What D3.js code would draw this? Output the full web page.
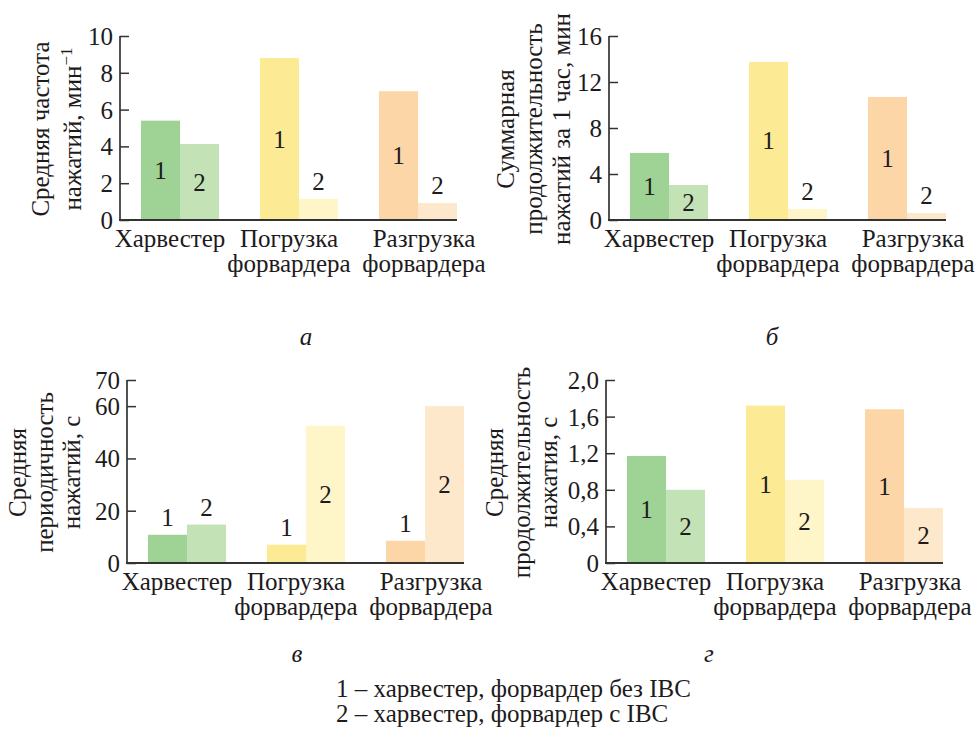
<!DOCTYPE html>
<html>
<head>
<meta charset="utf-8">
<script src="https://cdn.jsdelivr.net/npm/d3@7"></script>
<style>
  html, body { margin: 0; padding: 0; background: #ffffff; }
  svg text { font-family: "Liberation Serif", "Times New Roman", serif; fill: #1e1b1c; }
</style>
</head>
<body>
<svg id="chart" width="979" height="729"></svg>
<script>
// Operation categories (multi-line labels)
const categories = [["Харвестер"], ["Погрузка", "форвардера"], ["Разгрузка", "форвардера"]];
const seriesKeys = ["1", "2"];

// а: mean press frequency, min^-1
const freqNoIBC = [5.4, 8.8, 7.0];
const freqIBC = [4.13, 1.15, 0.92];
// б: total press duration per hour, min
const totalNoIBC = [5.83, 13.75, 10.7];
const totalIBC = [3.04, 0.96, 0.61];
// в: mean press periodicity, s
const periodNoIBC = [10.8, 7.0, 8.5];
const periodIBC = [14.7, 52.5, 60.0];
// г: mean press duration, s
const durationNoIBC = [1.17, 1.72, 1.68];
const durationIBC = [0.80, 0.91, 0.60];

// Axis ticks
const ticksA = [0, 2, 4, 6, 8, 10];
const ticksB = [0, 4, 8, 12, 16];
const ticksC = [0, 20, 40, 60, 70];
const ticksD = [0, 0.4, 0.8, 1.2, 1.6, 2.0];

// Number placement per bar: "in" = centred inside, "up" = above the bar
const placeA = [["in", "in"], ["in", "up"], ["in", "up"]];
const placeB = [["in", "in"], ["in", "up"], ["in", "up"]];
const placeC = [["up", "up"], ["up", "in"], ["up", "in"]];
const placeD = [["in", "in"], ["in", "in"], ["in", "in"]];

// Axis titles (lines)
const titleA = ["Средняя частота", "нажатий, мин"];
const titleB = ["Суммарная", "продолжительность", "нажатий за 1 час, мин"];
const titleC = ["Средняя", "периодичность", "нажатий, с"];
const titleD = ["Средняя", "продолжительность", "нажатия, с"];

const panelLetters = ["а", "б", "в", "г"];
const legendLines = ["1 – харвестер, форвардер без IBC", "2 – харвестер, форвардер с IBC"];

// Fill colours: [category][series]
const palette = [
  ["#9fd295", "#c3e2b6"],
  ["#fcea94", "#fef5c9"],
  ["#fcd6a7", "#fde8cb"]
];

const commaFmt = d => d === 0 ? "0" : d3.format(".1f")(d).replace(".", ",");

const svg = d3.select("#chart");
const FS = 25;

const panels = [
  { no: freqNoIBC, ib: freqIBC, ticks: ticksA, max: 10, place: placeA, title: titleA, sup: true,
    axisX: 120, top: 36, bottom: 220, titleX: [49, 81], letter: [306, 345], fmt: d3.format("d") },
  { no: totalNoIBC, ib: totalIBC, ticks: ticksB, max: 16, place: placeB, title: titleB, sup: false,
    axisX: 609, top: 36, bottom: 220, titleX: [514, 542, 570], letter: [772, 345], fmt: d3.format("d") },
  { no: periodNoIBC, ib: periodIBC, ticks: ticksC, max: 70, place: placeC, title: titleC, sup: false,
    axisX: 127, top: 380, bottom: 563, titleX: [26, 53, 80], letter: [297, 662], fmt: d3.format("d") },
  { no: durationNoIBC, ib: durationIBC, ticks: ticksD, max: 2.0, place: placeD, title: titleD, sup: false,
    axisX: 606, top: 380, bottom: 563, titleX: [503, 530, 557], letter: [709, 662], fmt: commaFmt }
];

// Small horizontal nudges for the category captions
const captionShift = [-10, -10, 6];

panels.forEach((p, pi) => {
  const g = svg.append("g");
  const x0 = p.axisX + 21;
  const x = d3.scaleBand().domain(d3.range(categories.length))
    .range([x0, x0 + 316]).paddingInner(0.3445).paddingOuter(0);
  const xs = d3.scaleBand().domain(seriesKeys).range([0, x.bandwidth()]).padding(0);
  const y = d3.scaleLinear().domain([0, p.max]).range([p.bottom, p.top]);

  const rows = categories.map((c, i) => ({ i, vals: [p.no[i], p.ib[i]] }));

  // Bars
  const grp = g.selectAll("g.grp").data(rows).join("g")
    .attr("transform", d => `translate(${x(d.i)},0)`);
  grp.selectAll("rect").data(d => d.vals.map((v, s) => ({ v, s, i: d.i }))).join("rect")
    .attr("x", d => xs(seriesKeys[d.s]))
    .attr("width", xs.bandwidth())
    .attr("y", d => y(d.v))
    .attr("height", d => y(0) - y(d.v))
    .attr("fill", d => palette[d.i][d.s]);

  // Series numbers
  grp.selectAll("text.num").data(d => d.vals.map((v, s) => ({ v, s, i: d.i }))).join("text")
    .attr("class", "num")
    .attr("x", d => xs(seriesKeys[d.s]) + xs.bandwidth() / 2)
    .attr("y", d => p.place[d.i][d.s] === "in" ? (y(d.v) + y(0)) / 2 : y(d.v) - 9)
    .attr("dy", d => p.place[d.i][d.s] === "in" ? "0.34em" : 0)
    .attr("text-anchor", "middle")
    .style("font-size", FS + "px")
    .text(d => seriesKeys[d.s]);

  // Y axis with inward ticks
  const yAxis = d3.axisRight(y).tickValues(p.ticks).tickSize(9).tickFormat("");
  const ya = g.append("g").attr("transform", `translate(${p.axisX},0)`).call(yAxis);
  ya.select(".domain").attr("d", `M0,${p.top}V${p.bottom}`).attr("stroke", "#333").attr("stroke-width", 1.7);
  ya.selectAll(".tick line").attr("stroke", "#333").attr("stroke-width", 1.5);
  g.selectAll("text.tick").data(p.ticks).join("text")
    .attr("class", "tick")
    .attr("x", p.axisX - 7)
    .attr("y", d => y(d))
    .attr("dy", "0.36em")
    .attr("text-anchor", "end")
    .style("font-size", FS + "px")
    .text(d => p.fmt(d));

  // Baseline
  g.append("line")
    .attr("x1", p.axisX - 1).attr("x2", x(categories.length - 1) + x.bandwidth())
    .attr("y1", y(0)).attr("y2", y(0))
    .attr("stroke", "#333").attr("stroke-width", 2);

  // Category captions
  categories.forEach((lines, i) => {
    const t = g.append("text")
      .attr("text-anchor", "middle")
      .style("font-size", FS + "px");
    lines.forEach((ln, k) => {
      t.append("tspan")
        .attr("x", x(i) + x.bandwidth() / 2 + captionShift[i])
        .attr("y", y(0) + 27 + k * 25)
        .text(ln);
    });
  });

  // Y-axis title
  const cy = (p.top + p.bottom) / 2 + 1;
  p.title.forEach((ln, k) => {
    const t = g.append("text")
      .attr("transform", `translate(${p.titleX[k]},${cy}) rotate(-90)`)
      .attr("text-anchor", "middle")
      .style("font-size", FS + "px");
    t.append("tspan").text(ln);
    if (p.sup && k === p.title.length - 1) {
      t.append("tspan").attr("dy", "-0.55em").style("font-size", "17px").text("−1");
    }
  });

  // Panel letter
  g.append("text")
    .attr("x", p.letter[0]).attr("y", p.letter[1])
    .attr("text-anchor", "middle")
    .style("font-size", FS + "px")
    .style("font-style", "italic")
    .text(panelLetters[pi]);
});

// Legend
svg.selectAll("text.legend").data(legendLines).join("text")
  .attr("class", "legend")
  .attr("x", 336)
  .attr("y", (d, i) => 697 + i * 25)
  .style("font-size", FS + "px")
  .text(d => d);
</script>
</body>
</html>
